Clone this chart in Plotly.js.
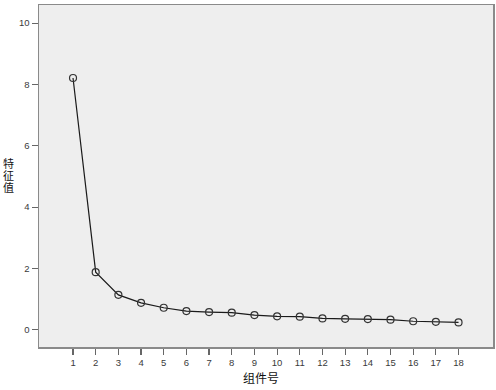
<!DOCTYPE html>
<html>
<head>
<meta charset="utf-8">
<script src="https://cdn.plot.ly/plotly-3.0.1.min.js"></script>
<style>html,body{margin:0;padding:0;background:#fff;}#chart{width:496px;height:390px;}</style>
</head>
<body>
<div id="chart"></div>
<script>
const components = [1,2,3,4,5,6,7,8,9,10,11,12,13,14,15,16,17,18];
const eigenvalues = [8.21,1.88,1.14,0.88,0.72,0.61,0.58,0.56,0.48,0.44,0.43,0.37,0.36,0.35,0.33,0.28,0.26,0.24];
const xTitle = '组件号';
const yTitleChars = ['特','征','值'];

const trace = {
  x: components,
  y: eigenvalues,
  type: 'scatter',
  mode: 'lines+markers',
  line: {color: '#1a1a1a', width: 1.2},
  marker: {symbol: 'circle-open', size: 7, color: '#333', line: {width: 1.2}},
  hoverinfo: 'skip'
};

// plot area in pixels: top 4.7, bottom 347.3 (height 342.6)
const plotTop = 4.7, plotH = 342.6;
const charCentersPx = [162.5, 174.8, 187.1];
const yAnn = yTitleChars.map((c, i) => ({
  text: c, xref: 'paper', yref: 'paper',
  x: -0.0675, y: 1 - (charCentersPx[i] - plotTop) / plotH,
  xanchor: 'center', yanchor: 'middle', showarrow: false,
  font: {family: 'Noto Sans CJK SC', size: 11, color: '#111'}
}));

const layout = {
  width: 496, height: 390,
  margin: {l: 39.3, r: 3.3, t: 4.7, b: 42.7},
  paper_bgcolor: '#ffffff',
  plot_bgcolor: '#eeeeee',
  showlegend: false,
  font: {family: 'Liberation Sans, Arial, sans-serif', size: 9.5, color: '#3a3a3a'},
  xaxis: {
    range: [-0.5, 19.52],
    tickmode: 'array', tickvals: components, ticktext: components.map(String),
    ticks: 'outside', ticklen: 6, tickwidth: 1.2, tickcolor: '#666',
    showgrid: false, zeroline: false,
    showline: true, linecolor: '#8a8a8a', linewidth: 1.5, mirror: true
  },
  yaxis: {
    range: [-0.56, 10.59],
    tickvals: [0,2,4,6,8,10],
    ticks: 'outside', ticklen: 6, tickwidth: 1.2, tickcolor: '#666',
    showgrid: false, zeroline: false,
    showline: true, linecolor: '#8a8a8a', linewidth: 1.5, mirror: true
  },
  annotations: [
    {text: xTitle, xref: 'paper', yref: 'paper', x: 0.488, y: -0.0896, xanchor: 'center', yanchor: 'middle', showarrow: false,
     font: {family: 'Noto Sans CJK SC', size: 12, color: '#111'}}
  ].concat(yAnn)
};

Plotly.newPlot('chart', [trace], layout, {displayModeBar: false, staticPlot: true});
</script>
</body>
</html>
